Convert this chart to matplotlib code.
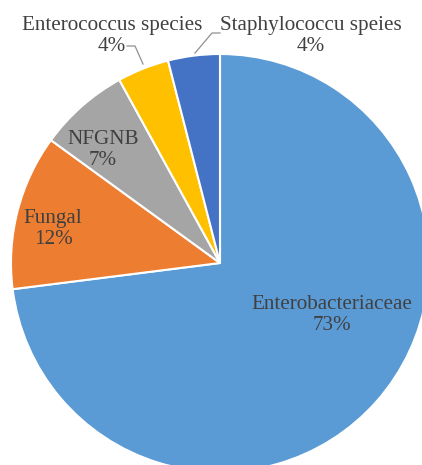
# Pie chart of isolated organisms

import numpy as np
import matplotlib.pyplot as plt

labels = ['Enterobacteriaceae', 'Fungal', 'NFGNB', 'Enterococcus species', 'Staphylococcu speies']
values = [73, 12, 7, 4, 4]
colors = ['#5B9BD5', '#ED7D31', '#A5A5A5', '#FFC000', '#4472C4']

plt.rcParams['font.family'] = 'serif'
plt.rcParams['font.serif'] = ['Liberation Serif', 'Times New Roman', 'DejaVu Serif']

W, H = 422, 465
fig = plt.figure(figsize=(W / 100, H / 100), dpi=100)
ax = fig.add_axes([0, 0, 1, 1])

cx, cy, R = 220, H - 263, 209
ax.pie(values, colors=colors, startangle=90, counterclock=False,
       center=(cx, cy), radius=R, frame=True,
       wedgeprops=dict(edgecolor='white', linewidth=1.5))
ax.set_xlim(0, W)
ax.set_ylim(0, H)
ax.axis('off')

# label positions (pixel layout, y from top)
pos = [(332, 315), (53, 229), (103, 150), (112, 36), (311, 36)]
tc = '#404040'
for lab, v, (x, y) in zip(labels, values, pos):
    ax.text(x, H - y, f'{lab}\n{v}%', ha='center', va='center', fontsize=15.2,
            color=tc, linespacing=1.1)

# leader lines
ax.plot([127, 135, 143], [H - 46, H - 46, H - 64], color='#909090', lw=0.9)
ax.plot([220, 212, 195], [H - 33, H - 33, H - 53], color='#909090', lw=0.9)

fig.savefig('out.png', dpi=100)
